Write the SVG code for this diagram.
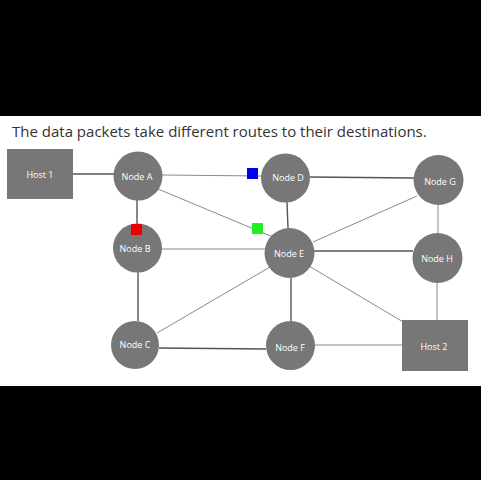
<svg xmlns="http://www.w3.org/2000/svg" width="481" height="480" viewBox="0 0 481 480">
<style>
.node{fill:#777777;}
.lbl{font-family:"Open Sans","Noto Sans",sans-serif;font-size:9px;fill:#ffffff;text-anchor:middle;dominant-baseline:central;}
.e{stroke:#8a8a8a;stroke-width:1;fill:none;}
.ed{stroke:#555555;stroke-width:1.4;fill:none;}
</style>
<rect x="0" y="0" width="481" height="480" fill="#000000"/>
<rect x="0" y="116" width="481" height="270" fill="#ffffff"/>
<text x="12" y="137" font-family="'Open Sans','Noto Sans',sans-serif" font-size="15" fill="#333333">The data packets take different routes to their destinations.</text>
<g id="connectors">
<line class="ed" x1="73" y1="174" x2="114" y2="174"/>
<line class="e" x1="162" y1="175" x2="262" y2="176"/>
<line class="e" x1="158" y1="189" x2="273" y2="237"/>
<line class="ed" x1="137" y1="200" x2="137" y2="224"/>
<line class="e" x1="162" y1="249" x2="265" y2="249"/>
<line class="ed" x1="138" y1="272" x2="138" y2="321"/>
<line class="e" x1="157" y1="333" x2="270" y2="267"/>
<line class="ed" x1="159" y1="348" x2="266" y2="349"/>
<line class="ed" x1="287" y1="202" x2="288" y2="228"/>
<line class="ed" x1="310" y1="177" x2="414" y2="178"/>
<line class="e" x1="313" y1="242" x2="417" y2="196"/>
<line class="ed" x1="314" y1="251" x2="413" y2="251"/>
<line class="ed" x1="291" y1="278" x2="291" y2="321"/>
<line class="e" x1="309" y1="266" x2="410" y2="326"/>
<line class="e" x1="438" y1="205" x2="438" y2="233"/>
<line class="e" x1="437" y1="282" x2="437" y2="320"/>
<line class="e" x1="315" y1="345" x2="402" y2="345"/>
</g>
<g id="host1"><rect class="node" x="7" y="149" width="66" height="50"/><text class="lbl" x="40" y="174">Host 1</text></g>
<g id="nodeA"><circle class="node" cx="138" cy="176" r="24.5"/><text class="lbl" x="137" y="176">Node A</text></g>
<g id="nodeB"><circle class="node" cx="137.5" cy="248" r="24.5"/><text class="lbl" x="135" y="248">Node B</text></g>
<g id="nodeC"><circle class="node" cx="135" cy="345" r="24"/><text class="lbl" x="135" y="344">Node C</text></g>
<g id="nodeD"><circle class="node" cx="285.5" cy="178" r="24.5"/><text class="lbl" x="288" y="177">Node D</text></g>
<g id="nodeE"><circle class="node" cx="289.5" cy="253" r="25"/><text class="lbl" x="289" y="253">Node E</text></g>
<g id="nodeF"><circle class="node" cx="290.5" cy="345.5" r="24.5"/><text class="lbl" x="290" y="347">Node F</text></g>
<g id="nodeG"><circle class="node" cx="438.5" cy="180" r="25"/><text class="lbl" x="440" y="181">Node G</text></g>
<g id="nodeH"><circle class="node" cx="437.5" cy="258" r="25"/><text class="lbl" x="437" y="258">Node H</text></g>
<g id="host2"><rect class="node" x="402" y="320" width="66" height="51"/><text class="lbl" x="434" y="346">Host 2</text></g>
<g id="packets">
<rect x="131" y="224" width="11" height="11" fill="#ee0000"/>
<rect x="247" y="168" width="11" height="11" fill="#0000ee"/>
<rect x="252" y="223" width="11" height="11" fill="#22ee22"/>
</g>
</svg>
